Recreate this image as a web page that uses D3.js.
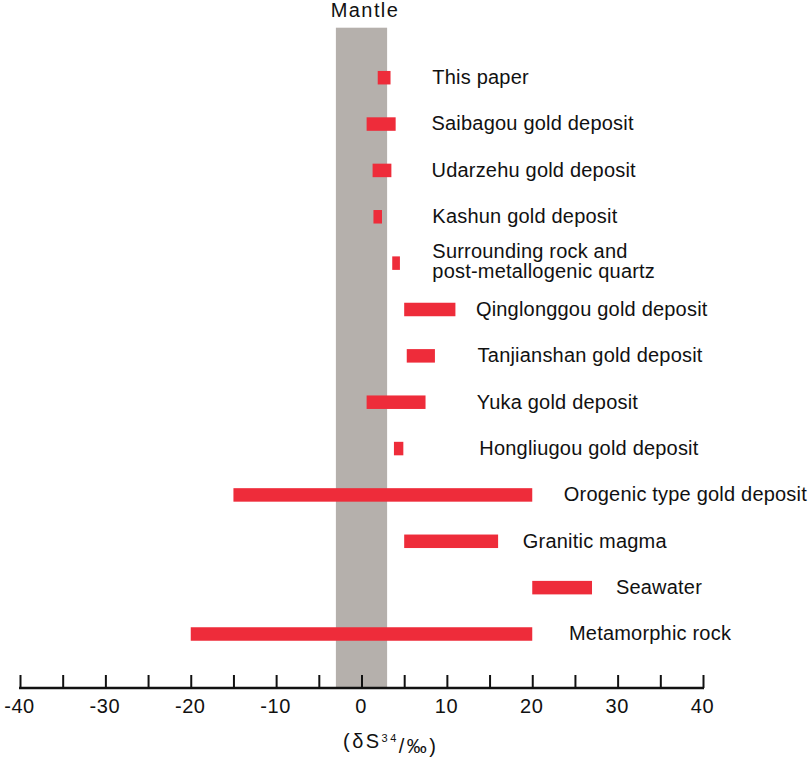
<!DOCTYPE html>
<html>
<head>
<meta charset="utf-8">
<script src="https://cdn.jsdelivr.net/npm/d3@7"></script>
<style>
  html, body { margin: 0; padding: 0; background: #fff; }
  svg { display: block; }
  text { font-family: "Liberation Sans", Arial, Helvetica, sans-serif; fill: #111; }
</style>
</head>
<body>
<svg id="chart" width="809" height="758"></svg>
<script>
// ---- data ----
const categories = [
  "This paper",
  "Saibagou gold deposit",
  "Udarzehu gold deposit",
  "Kashun gold deposit",
  "Surrounding rock and\npost-metallogenic quartz",
  "Qinglonggou gold deposit",
  "Tanjianshan gold deposit",
  "Yuka gold deposit",
  "Hongliugou gold deposit",
  "Orogenic type gold deposit",
  "Granitic magma",
  "Seawater",
  "Metamorphic rock"
];
const minValues = [1.9, 0.6, 1.3, 1.4, 3.6, 5.0, 5.3, 0.6, 3.8, -15, 5, 20, -20];
const maxValues = [3.4, 4.0, 3.5, 2.4, 4.5, 11.0, 8.6, 7.5, 4.9, 20, 16, 27, 20];
const mantleRange = [-3, 3];
const xDomain = [-40, 40];
const tickValues = [-40, -35, -30, -25, -20, -15, -10, -5, 0, 5, 10, 15, 20, 25, 30, 35, 40];

// ---- layout (label start positions, expressed on the x axis) ----
const labelAt = [8.3, 8.2, 8.2, 8.3, 8.3, 13.4, 13.6, 13.5, 13.8, 23.7, 18.9, 29.8, 24.3];

const svg = d3.select("#chart");
const axisY = 688;
const x = d3.scaleLinear().domain(xDomain).range([20, 703]);
const y = d3.scalePoint().domain(categories).range([77.7, 634]);
const barH = 13.5;
const red = "#ee2c3a";

// Mantle band
svg.append("rect")
  .attr("x", x(mantleRange[0]))
  .attr("width", x(mantleRange[1]) - x(mantleRange[0]))
  .attr("y", 27.7)
  .attr("height", axisY - 27.7)
  .attr("fill", "#b5b0ac");

svg.append("text")
  .attr("x", x(0) + 3.5)
  .attr("y", 17)
  .attr("text-anchor", "middle")
  .style("font-size", "20px")
  .style("letter-spacing", "1.4px")
  .text("Mantle");

// Bars
svg.append("g").selectAll("rect")
  .data(categories)
  .join("rect")
  .attr("x", (d, i) => x(minValues[i]))
  .attr("width", (d, i) => x(maxValues[i]) - x(minValues[i]))
  .attr("y", d => y(d) - barH / 2)
  .attr("height", barH)
  .attr("fill", red);

// Labels
const labels = svg.append("g").selectAll("text")
  .data(categories)
  .join("text")
  .attr("x", (d, i) => x(labelAt[i]))
  .attr("y", d => y(d))
  .style("font-size", "20px")
  .style("letter-spacing", "0.2px");

labels.each(function(d) {
  const lines = d.split("\n");
  const t = d3.select(this);
  const baseX = t.attr("x");
  if (lines.length === 1) {
    t.append("tspan").attr("x", baseX).attr("dy", "0.32em").text(lines[0]);
  } else {
    lines.forEach((ln, k) => {
      t.append("tspan")
        .attr("x", baseX)
        .attr("dy", k === 0 ? -5.3 : 20.5)
        .text(ln);
    });
  }
});

// Axis
const axis = d3.axisBottom(x)
  .tickValues(tickValues)
  .tickSize(-13)
  .tickSizeOuter(0)
  .tickPadding(11)
  .tickFormat(d => (d % 10 === 0 ? String(d) : ""));

const gAxis = svg.append("g")
  .attr("transform", `translate(0,${axisY})`)
  .call(axis);
gAxis.select(".domain").attr("stroke", "#111").attr("stroke-width", 2.6).attr("d", `M${x(-40) - 1},0H${x(40) + 1}`);
gAxis.selectAll(".tick line").attr("stroke", "#111").attr("stroke-width", 2);
gAxis.selectAll(".tick text")
  .attr("fill", "#111")
  .attr("dx", "-1")
  .style("font-family", '"Liberation Sans", Arial, sans-serif')
  .style("font-size", "20px")
  .style("letter-spacing", "0.6px");

// Axis title
const title = svg.append("text")
  .attr("x", 389.5)
  .attr("y", 748)
  .attr("text-anchor", "middle")
  .attr("textLength", 93)
  .attr("lengthAdjust", "spacing")
  .style("font-size", "20px");
title.append("tspan").text("(δS");
title.append("tspan").attr("dy", "-0.55em").style("font-size", "11px").text("34");
title.append("tspan").attr("dy", "0.55em").text("/‰)");
</script>
</body>
</html>
